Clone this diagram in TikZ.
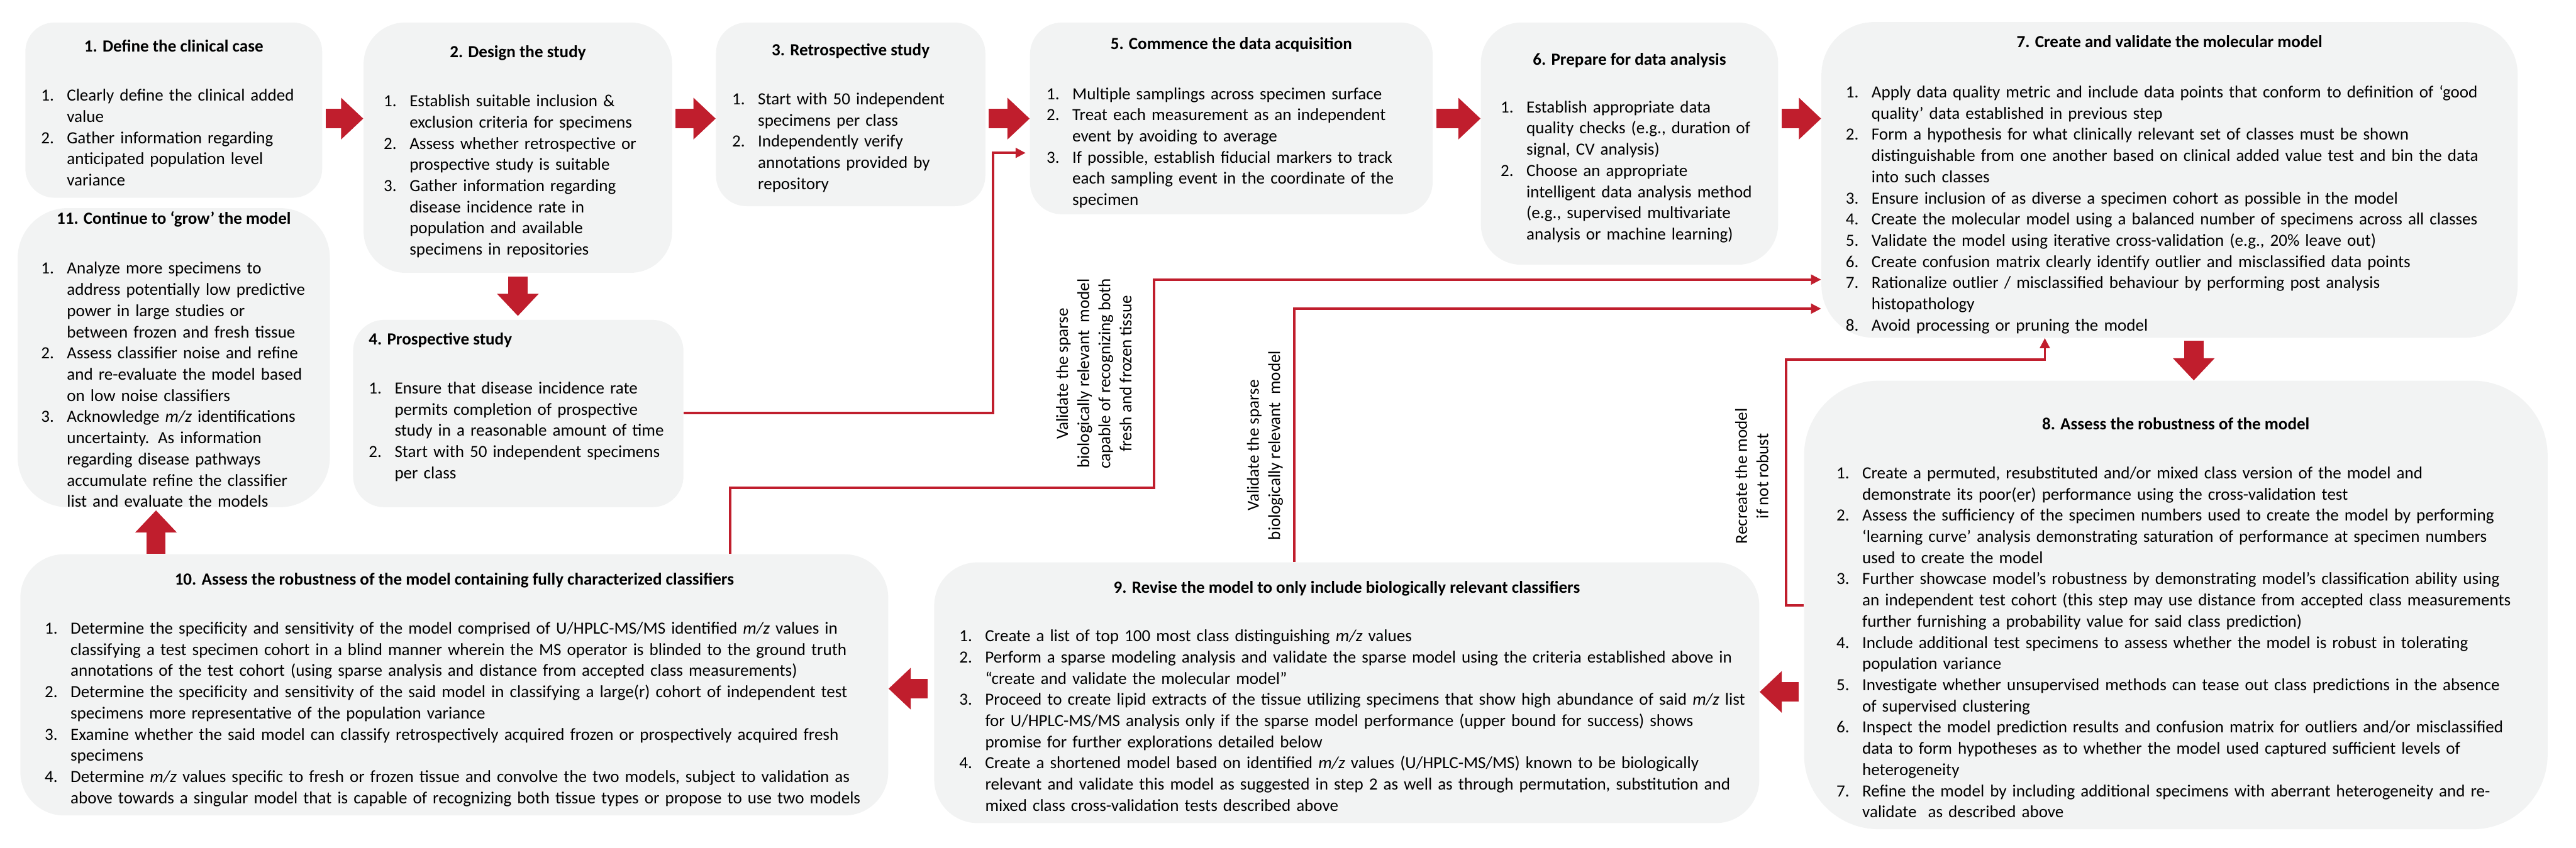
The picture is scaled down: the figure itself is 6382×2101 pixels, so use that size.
\documentclass[tikz,border=0pt]{standalone}
\usepackage{fontspec}
\setmainfont{Carlito}
\usetikzlibrary{arrows.meta}
\definecolor{boxgray}{RGB}{242,243,243}
\definecolor{arrred}{RGB}{192,30,45}
\newlength{\listind}
\setlength{\listind}{0.64cm}
\setlength{\parskip}{0pt}
\newcommand{\bodyfont}{\fontsize{12}{14.94}\selectfont}
\newcommand{\nl}{\par\noindent\hspace*{\listind}}
\newcommand{\litem}[2]{\par\noindent\makebox[\listind][l]{\strut#1}#2}
\newcommand{\mz}{\emph{m/z}}
\begin{document}
\begin{tikzpicture}[x=0.01cm,y=-0.01cm,
  box/.style={fill=boxgray,draw=none,inner sep=0pt},
  ttl/.style={font=\bodyfont\bfseries,anchor=base,inner sep=0pt},
  lst/.style={font=\bodyfont,anchor=north west,inner sep=0pt,align=left,text width=#1},
  lbl/.style={font=\bodyfont,rotate=90,align=center,inner sep=0pt},
  blockarrow/.style={draw=arrred,line width=0.48cm,-{Triangle[length=0.55cm,width=1.0cm]}},
  thinarrow/.style={draw=arrred,line width=0.06cm,-{Triangle[length=0.25cm,width=0.24cm]}}
]
\useasboundingbox (0,0) rectangle (6382,2101);

% ---------- boxes ----------
\node[box,minimum width=7.35cm,minimum height=4.34cm,rounded corners=0.72cm] (b1) at (430.5,273) {};
\node[box,minimum width=7.64cm,minimum height=6.20cm,rounded corners=1.03cm] (b2) at (1283,366) {};
\node[box,minimum width=6.67cm,minimum height=4.55cm,rounded corners=0.76cm] (b3) at (2107.5,283.5) {};
\node[box,minimum width=8.18cm,minimum height=4.64cm,rounded corners=0.77cm] (b4) at (1284,1025) {};
\node[box,minimum width=9.97cm,minimum height=4.75cm,rounded corners=0.79cm] (b5) at (3050.5,293.5) {};
\node[box,minimum width=7.36cm,minimum height=6.00cm,rounded corners=1.00cm] (b6) at (4037,356) {};
\node[box,minimum width=17.24cm,minimum height=7.82cm,rounded corners=1.30cm] (b7) at (5375,446) {};
\node[box,minimum width=18.41cm,minimum height=11.11cm,rounded corners=1.85cm] (b8) at (5390.5,1499.5) {};
\node[box,minimum width=20.43cm,minimum height=6.46cm,rounded corners=1.08cm] (b9) at (3336.5,1717) {};
\node[box,minimum width=21.49cm,minimum height=6.47cm,rounded corners=1.08cm] (b10) at (1125.5,1697.5) {};
\node[box,minimum width=7.73cm,minimum height=7.41cm,rounded corners=1.24cm] (b11) at (430.5,886.5) {};

% ---------- titles ----------
\node[ttl] (t1) at (430.5,128) {1. Define the clinical case};
\node[ttl] (t2) at (1283,143) {2. Design the study};
\node[ttl] (t3) at (2107.5,138) {3. Retrospective study};
\node[ttl,anchor=base west] (t4) at (913,855) {4. Prospective study};
\node[ttl] (t5) at (3050.5,123) {5. Commence the data acquisition};
\node[ttl] (t6) at (4037,161) {6. Prepare for data analysis};
\node[ttl] (t7) at (5375,117) {7. Create and validate the molecular model};
\node[ttl] (t8) at (5390.5,1065) {8. Assess the robustness of the model};
\node[ttl] (t9) at (3336.5,1470) {9. Revise the model to only include biologically relevant classifiers};
\node[ttl] (t10) at (1125.5,1450) {10. Assess the robustness of the model containing fully characterized classifiers};
\node[ttl] (t11) at (430.5,556) {11. Continue to ‘grow’ the model};

% ---------- lists ----------
\node[lst=7.5cm] (l1) at (101,197) {%
\litem{1.}{Clearly define the clinical added\nl value}
\litem{2.}{Gather information regarding\nl anticipated population level\nl variance}};

\node[lst=7.8cm] (l2) at (950,211) {%
\litem{1.}{Establish suitable inclusion \&\nl exclusion criteria for specimens}
\litem{2.}{Assess whether retrospective or\nl prospective study is suitable}
\litem{3.}{Gather information regarding\nl disease incidence rate in\nl population and available\nl specimens in repositories}};

\node[lst=7cm] (l3) at (1813,206) {%
\litem{1.}{Start with 50 independent\nl specimens per class}
\litem{2.}{Independently verify\nl annotations provided by\nl repository}};

\node[lst=8.5cm] (l4) at (913,923) {%
\litem{1.}{Ensure that disease incidence rate\nl permits completion of prospective\nl study in a reasonable amount of time}
\litem{2.}{Start with 50 independent specimens\nl per class}};

\node[lst=10.5cm] (l5) at (2592,193) {%
\litem{1.}{Multiple samplings across specimen surface}
\litem{2.}{Treat each measurement as an independent\nl event by avoiding to average}
\litem{3.}{If possible, establish fiducial markers to track\nl each sampling event in the coordinate of the\nl specimen}};

\node[lst=7.5cm] (l6) at (3717,226) {%
\litem{1.}{Establish appropriate data\nl quality checks (e.g., duration of\nl signal, CV analysis)}
\litem{2.}{Choose an appropriate\nl intelligent data analysis method\nl (e.g., supervised multivariate\nl analysis or machine learning)}};

\node[lst=17.5cm] (l7) at (4572,189) {%
\litem{1.}{Apply data quality metric and include data points that conform to definition of ‘good\nl quality’ data established in previous step}
\litem{2.}{Form a hypothesis for what clinically relevant set of classes must be shown\nl distinguishable from one another based on clinical added value test and bin the data\nl into such classes}
\litem{3.}{Ensure inclusion of as diverse a specimen cohort as possible in the model}
\litem{4.}{Create the molecular model using a balanced number of specimens across all classes}
\litem{5.}{Validate the model using iterative cross-validation (e.g., 20\% leave out)}
\litem{6.}{Create confusion matrix clearly identify outlier and misclassified data points}
\litem{7.}{Rationalize outlier / misclassified behaviour by performing post analysis\nl histopathology}
\litem{8.}{Avoid processing or pruning the model}};

\node[lst=18.5cm] (l8) at (4549,1133) {%
\litem{1.}{Create a permuted, resubstituted and/or mixed class version of the model and\nl demonstrate its poor(er) performance using the cross-validation test}
\litem{2.}{Assess the sufficiency of the specimen numbers used to create the model by performing\nl ‘learning curve’ analysis demonstrating saturation of performance at specimen numbers\nl used to create the model}
\litem{3.}{Further showcase model’s robustness by demonstrating model’s classification ability using\nl an independent test cohort (this step may use distance from accepted class measurements\nl further furnishing a probability value for said class prediction)}
\litem{4.}{Include additional test specimens to assess whether the model is robust in tolerating\nl population variance}
\litem{5.}{Investigate whether unsupervised methods can tease out class predictions in the absence\nl of supervised clustering}
\litem{6.}{Inspect the model prediction results and confusion matrix for outliers and/or misclassified\nl data to form hypotheses as to whether the model used captured sufficient levels of\nl heterogeneity}
\litem{7.}{Refine the model by including additional specimens with aberrant heterogeneity and re-\nl validate~ as described above}};

\node[lst=21cm] (l9) at (2376,1537) {%
\litem{1.}{Create a list of top 100 most class distinguishing \mz{} values}
\litem{2.}{Perform a sparse modeling analysis and validate the sparse model using the criteria established above in\nl “create and validate the molecular model”}
\litem{3.}{Proceed to create lipid extracts of the tissue utilizing specimens that show high abundance of said \mz{} list\nl for U/HPLC-MS/MS analysis only if the sparse model performance (upper bound for success) shows\nl promise for further explorations detailed below}
\litem{4.}{Create a shortened model based on identified \mz{} values (U/HPLC-MS/MS) known to be biologically\nl relevant and validate this model as suggested in step 2 as well as through permutation, substitution and\nl mixed class cross-validation tests described above}};

\node[lst=22cm] (l10) at (110,1518) {%
\litem{1.}{Determine the specificity and sensitivity of the model comprised of U/HPLC-MS/MS identified \mz{} values in\nl classifying a test specimen cohort in a blind manner wherein the MS operator is blinded to the ground truth\nl annotations of the test cohort (using sparse analysis and distance from accepted class measurements)}
\litem{2.}{Determine the specificity and sensitivity of the said model in classifying a large(r) cohort of independent test\nl specimens more representative of the population variance}
\litem{3.}{Examine whether the said model can classify retrospectively acquired frozen or prospectively acquired fresh\nl specimens}
\litem{4.}{Determine \mz{} values specific to fresh or frozen tissue and convolve the two models, subject to validation as\nl above towards a singular model that is capable of recognizing both tissue types or propose to use two models}};

\node[lst=7.8cm] (l11) at (101,626) {%
\litem{1.}{Analyze more specimens to\nl address potentially low predictive\nl power in large studies or\nl between frozen and fresh tissue}
\litem{2.}{Assess classifier noise and refine\nl and re-evaluate the model based\nl on low noise classifiers}
\litem{3.}{Acknowledge \mz{} identifications\nl uncertainty. As information\nl regarding disease pathways\nl accumulate refine the classifier\nl list and evaluate the models}};

% ---------- block arrows ----------
\coordinate (ay) at (0,294);
\draw[blockarrow,shorten <=0.08cm] (b1.east |- ay) -- (b2.west |- ay);
\draw[blockarrow,shorten <=0.08cm] (b2.east |- ay) -- (b3.west |- ay);
\draw[blockarrow,shorten <=0.08cm] (b3.east |- ay) -- (b5.west |- ay);
\draw[blockarrow,shorten <=0.08cm] (b5.east |- ay) -- (b6.west |- ay);
\draw[blockarrow,shorten <=0.08cm] (b6.east |- ay) -- (b7.west |- ay);
\draw[blockarrow,shorten <=0.09cm,shorten >=0.09cm] (b2.south) -- (b2.south |- b4.north);
\coordinate (ax78) at (5435,0);
\draw[blockarrow,shorten <=0.06cm] (b7.south -| ax78) -- (b8.north -| ax78);
\coordinate (ay89) at (0,1715);
\draw[blockarrow,shorten <=0.12cm] (b8.west |- ay89) -- (b9.east |- ay89);
\coordinate (ay910) at (0,1707);
\draw[blockarrow,shorten <=0.15cm] (b9.west |- ay910) -- (b10.east |- ay910);
\coordinate (ax1011) at (386.5,0);
\draw[blockarrow,shorten >=0.07cm] (b10.north -| ax1011) -- (b11.south -| ax1011);

% ---------- thin connectors ----------
\coordinate (pA1) at (2460,1024);
\coordinate (pA2) at (2460,379);
\draw[thinarrow,shorten >=0.1cm] (b4.east |- pA1) -- (pA1) -- (pA2) -- (b5.west |- pA2);

\coordinate (pB1) at (1809,1209);
\coordinate (pB2) at (2859,1209);
\coordinate (pB3) at (2859,693);
\draw[thinarrow] (pB1 |- b10.north) -- (pB1) -- (pB2) -- (pB3) -- (b7.west |- pB3);

\coordinate (pC1) at (3206,765);
\draw[thinarrow] (pC1 |- b9.north) -- (pC1) -- (b7.west |- pC1);

\coordinate (pD1) at (4425,1500);
\coordinate (pD2) at (4425,891);
\coordinate (pD3) at (5066,891);
\draw[thinarrow] (b8.west |- pD1) -- (pD1) -- (pD2) -- (pD3) -- (pD3 |- b7.south);

% ---------- connector labels ----------
\node[lbl] (la) at (2710,926) {Validate the sparse\\biologically relevant~~model\\capable of recognizing both\\fresh and frozen tissue};
\node[lbl] (lb) at (3134,1104) {Validate the sparse\\biologically relevant~~model};
\node[lbl] (lc) at (4340,1180) {Recreate the model\\if not robust};
\end{tikzpicture}
\end{document}
